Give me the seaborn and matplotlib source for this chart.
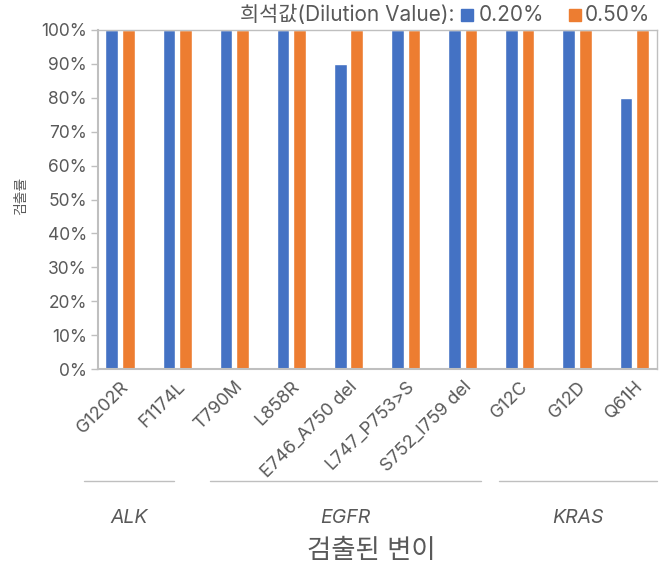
import pandas as pd
import matplotlib.pyplot as plt
from matplotlib.lines import Line2D
from matplotlib.patches import Rectangle
from matplotlib.ticker import PercentFormatter
import seaborn as sns

# 데이터
variants = ['G1202R', 'F1174L', 'T790M', 'L858R', 'E746_A750 del',
            'L747_P753>S', 'S752_I759 del', 'G12C', 'G12D', 'Q61H']
rate_020 = [100, 100, 100, 100, 90, 100, 100, 100, 100, 80]
rate_050 = [100, 100, 100, 100, 100, 100, 100, 100, 100, 100]
dilutions = ['0.20%', '0.50%']
genes = ['ALK', 'EGFR', 'KRAS']

BLUE = '#4472C4'
ORANGE = '#ED7D31'
TEXT = '#595959'
AXIS = '#BFBFBF'

df = pd.DataFrame({
    'variant': variants * 2,
    'rate': rate_020 + rate_050,
    'dilution': [dilutions[0]] * len(variants) + [dilutions[1]] * len(variants),
})

sns.set_style('white')
plt.rcParams['font.family'] = ['Inter', 'Noto Sans CJK KR', 'DejaVu Sans']

W, H = 667, 569
fig = plt.figure(figsize=(6.67, 5.69), dpi=100)
ax = fig.add_axes([98 / W, 1 - 369 / H, (657 - 98) / W, (369 - 30) / H])

sns.barplot(data=df, x='variant', y='rate', hue='dilution',
            palette=[BLUE, ORANGE], width=0.58, gap=0.24,
            saturation=1, legend=False, ax=ax)

ax.set_ylim(0, 100)
ax.set_xlim(-0.385, 9.40)
ax.set_yticks(range(0, 101, 10))
ax.yaxis.set_major_formatter(PercentFormatter(decimals=0))
ax.tick_params(axis='y', left=True, length=5, width=1, color=AXIS,
               labelsize=12.5, labelcolor=TEXT, pad=3)
ax.tick_params(axis='x', bottom=False, labelsize=13, labelcolor=TEXT, pad=3)
plt.setp(ax.get_xticklabels(), rotation=45, ha='right', rotation_mode='anchor')
for s in ax.spines.values():
    s.set_visible(True)
    s.set_color(AXIS)
    s.set_linewidth(1)
ax.spines['left'].set_linewidth(1.5)
ax.spines['bottom'].set_linewidth(1.5)
ax.set_xlabel('')
ax.set_ylabel('')
fig.text(21 / W, 1 - 196 / H, '검출률', rotation=90, ha='center', va='center',
         fontsize=10, color=TEXT)

# 그룹 라벨 (유전자)
group_spans = [(84, 174), (210, 481), (499, 657)]
for (x0, x1), g in zip(group_spans, genes):
    fig.add_artist(Line2D([x0 / W, x1 / W], [1 - 481 / H] * 2,
                          color=AXIS, lw=1, transform=fig.transFigure))
    fig.text((x0 + x1) / 2 / W, 1 - 518 / H, g, ha='center', va='center',
             fontsize=14, style='italic', color=TEXT)

fig.text(371 / W, 1 - 551 / H, '검출된 변이', ha='center', va='center',
         fontsize=19, color=TEXT)

# 범례
fig.text(455 / W, 1 - 15 / H, '희석값(Dilution Value):', ha='right', va='center',
         fontsize=15, color=TEXT)
for xs, xt, c, lab in [(461, 479, BLUE, dilutions[0]), (569, 585, ORANGE, dilutions[1])]:
    fig.add_artist(Rectangle((xs / W, 1 - 21 / H), 12 / W, 12 / H,
                             color=c, transform=fig.transFigure))
    fig.text(xt / W, 1 - 15 / H, lab, ha='left', va='center', fontsize=15, color=TEXT)

fig.savefig('out.png', dpi=100)
